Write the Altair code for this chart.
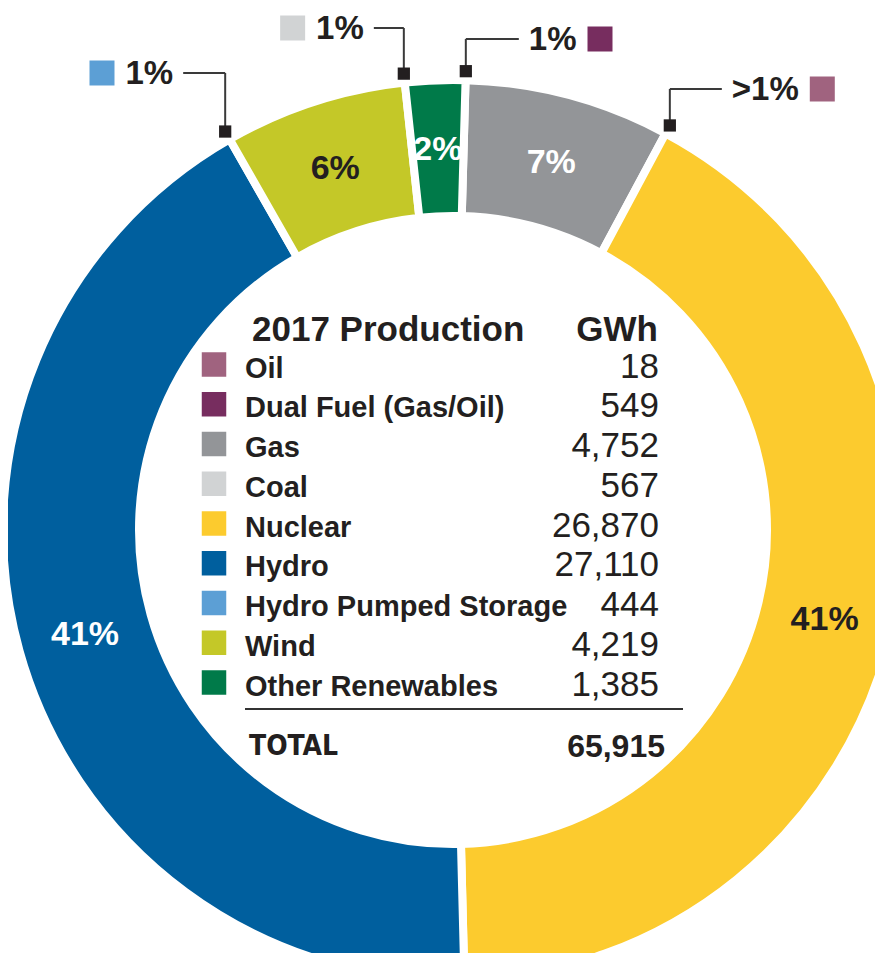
import math
import altair as alt
import pandas as pd

# ---------------- data ----------------
sources = ["Oil", "Dual Fuel (Gas/Oil)", "Gas", "Coal", "Nuclear", "Hydro",
           "Hydro Pumped Storage", "Wind", "Other Renewables"]
gwh = [18, 549, 4752, 567, 26870, 27110, 444, 4219, 1385]
colors = ["#a0637f", "#772d5f", "#939598", "#d1d3d4", "#fccb2e", "#005f9e",
          "#5c9fd5", "#c4c828", "#007a49"]
total_gwh = 65915
title_text = "2017 Production"
unit_text = "GWh"
total_text = "TOTAL"

# sources drawn as ring segments (clockwise from the top)
ring_sources = ["Gas", "Nuclear", "Hydro", "Wind", "Other Renewables"]
ring_label_colors = ["white", "#231f20", "white", "#231f20", "white"]

# small sources shown as call-outs at the gap after a ring segment
callout_sources = ["Hydro Pumped Storage", "Coal", "Dual Fuel (Gas/Oil)", "Oil"]
callout_after = ["Hydro", "Wind", "Other Renewables", "Gas"]
callout_labels = ["1%", "1%", "1%", ">1%"]

# ---------------- layout / style ----------------
W, H = 867, 945
CX, CY = 445, 522
R_IN, R_OUT, R_LBL, R_MARK = 314, 450, 382, 459
ROT_DEG = 1.6
FONT = "Liberation Sans"
NARROW = "Liberation Sans Narrow, DejaVu Sans Condensed, Liberation Sans"
DARK = "#231f20"
CALL_LEVEL = [65, 20, 31, 81]
CALL_RUN = [42, 30, 53, 52]
CALL_DIR = [-1, -1, 1, 1]
CALL_FS = 33
ROW_TOP, ROW_BOTTOM = 356.5, 674.5

val = dict(zip(sources, gwh))
col = dict(zip(sources, colors))

ring = pd.DataFrame({
    "source": ring_sources,
    "gwh": [val[s] for s in ring_sources],
    "order": list(range(len(ring_sources))),
    "label": [f"{round(val[s] / total_gwh * 100)}%" for s in ring_sources],
    "lcolor": ring_label_colors,
})

ring_total = float(sum(ring["gwh"]))
cum = {}
acc = 0.0
for s, v in zip(ring["source"], ring["gwh"]):
    acc += v
    cum[s] = acc / ring_total

# Arial-bold-ish advance widths for call-out label sizing
ADV = {"1": 0.556, "%": 0.889, ">": 0.584}


def text_w(t, fs):
    return sum(ADV.get(c, 0.6) for c in t) * fs


rows = []
for s, after, lab, lvl, run, d in zip(callout_sources, callout_after, callout_labels,
                                      CALL_LEVEL, CALL_RUN, CALL_DIR):
    a = math.radians(ROT_DEG + cum[after] * 360.0)
    mx = CX + R_MARK * math.sin(a)
    my = CY - R_MARK * math.cos(a)
    ex = mx + d * run
    tx = ex + d * 10
    sx = tx + d * (text_w(lab, CALL_FS) + 11 + 12.5)
    rows.append({"source": s, "label": lab, "mx": mx, "my": my, "ly": lvl,
                 "ex": ex, "tx": tx, "sx": sx, "dir": d, "color": col[s]})
callouts = pd.DataFrame(rows)

table = pd.DataFrame({
    "source": sources,
    "value": [f"{v:,}" for v in gwh],
    "idx": list(range(len(sources))),
    "color": colors,
})

# ---------------- ring ----------------
theta = alt.Theta("gwh:Q", stack=True,
                  scale=alt.Scale(range=[math.radians(ROT_DEG),
                                         math.radians(ROT_DEG) + 2 * math.pi]))
base = alt.Chart(ring).encode(theta=theta, order=alt.Order("order:Q"))

arcs = base.mark_arc(innerRadius=R_IN, outerRadius=R_OUT, stroke="white",
                     strokeWidth=8).encode(
    color=alt.Color("source:N", scale=alt.Scale(domain=ring_sources,
                                                range=[col[s] for s in ring_sources]),
                    legend=None),
    x=alt.value(CX), y=alt.value(CY),
)

ring_text = base.mark_text(radius=R_LBL, font=FONT, fontSize=34, fontWeight="bold",
                           align="center", baseline="middle", dy=2).encode(
    text="label:N",
    color=alt.Color("lcolor:N", scale=None),
    detail="source:N",
    x=alt.value(CX), y=alt.value(CY),
)

# ---------------- call-outs ----------------
cbase = alt.Chart(callouts)
px = lambda f: alt.X(f, scale=None, axis=None)
py = lambda f: alt.Y(f, scale=None, axis=None)

vlines = cbase.mark_rule(color="#3a3a3a", strokeWidth=2).encode(
    x=px("mx:Q"), y=py("my:Q"), y2="ly:Q")
hlines = cbase.mark_rule(color="#3a3a3a", strokeWidth=2).encode(
    x=px("mx:Q"), x2="ex:Q", y=py("ly:Q"))
markers = cbase.mark_square(size=150, opacity=1, color=DARK).encode(
    x=px("mx:Q"), y=py("my:Q"))
ctext_r = cbase.transform_filter(alt.datum.dir > 0).mark_text(
    align="left", baseline="middle", font=FONT, fontSize=CALL_FS,
    fontWeight="bold", color=DARK, dy=1).encode(
    x=px("tx:Q"), y=py("ly:Q"), text="label:N")
ctext_l = cbase.transform_filter(alt.datum.dir < 0).mark_text(
    align="right", baseline="middle", font=FONT, fontSize=CALL_FS,
    fontWeight="bold", color=DARK, dy=1).encode(
    x=px("tx:Q"), y=py("ly:Q"), text="label:N")
csquares = cbase.mark_square(size=625, opacity=1).encode(
    x=px("sx:Q"), y=py("ly:Q"), color=alt.Color("color:N", scale=None))

# ---------------- centre table ----------------
ty = alt.Y("idx:Q", scale=alt.Scale(domain=[0, len(sources) - 1],
                                    range=[ROW_TOP, ROW_BOTTOM]), axis=None)
tbase = alt.Chart(table)
tsquares = tbase.mark_square(size=600, opacity=1).encode(
    x=alt.value(206), y=ty, color=alt.Color("color:N", scale=None))
tlabels = tbase.mark_text(align="left", baseline="middle", font=FONT, fontSize=29,
                          fontWeight="bold", color=DARK, dy=4).encode(
    x=alt.value(237), y=ty, text="source:N")
tvalues = tbase.mark_text(align="right", baseline="middle", font=FONT, fontSize=35,
                          color=DARK, dy=2).encode(
    x=alt.value(651), y=ty, text="value:N")

hdr = alt.Chart(pd.DataFrame({"t": [title_text]})).mark_text(
    align="left", font=FONT, fontSize=35, fontWeight="bold", color=DARK).encode(
    x=alt.value(244), y=alt.value(322), text="t:N")
unit = alt.Chart(pd.DataFrame({"t": [unit_text]})).mark_text(
    align="right", font=FONT, fontSize=35, fontWeight="bold", color=DARK).encode(
    x=alt.value(650), y=alt.value(322), text="t:N")
sep = alt.Chart(pd.DataFrame({"t": [0]})).mark_rule(color="#333333", strokeWidth=2).encode(
    x=alt.value(237), x2=alt.value(675), y=alt.value(701))
tot_l = alt.Chart(pd.DataFrame({"t": [total_text]})).mark_text(
    align="left", font=NARROW, fontSize=28, fontWeight="bold", color=DARK).encode(
    x=alt.value(241), y=alt.value(739), text="t:N")
tot_v = alt.Chart(pd.DataFrame({"t": [f"{total_gwh:,}"]})).mark_text(
    align="right", font=FONT, fontSize=32, fontWeight="bold", color=DARK).encode(
    x=alt.value(657), y=alt.value(739), text="t:N")

chart = alt.layer(
    arcs, ring_text, vlines, hlines, markers, ctext_r, ctext_l, csquares,
    tsquares, tlabels, tvalues, hdr, unit, sep, tot_l, tot_v,
).resolve_scale(
    x="independent", y="independent", color="independent"
).properties(
    width=W, height=H, padding=0,
    autosize=alt.AutoSizeParams(type="none"),
).configure_view(stroke=None)

chart.save("out.html", embed_options={"renderer": "svg", "actions": False})
